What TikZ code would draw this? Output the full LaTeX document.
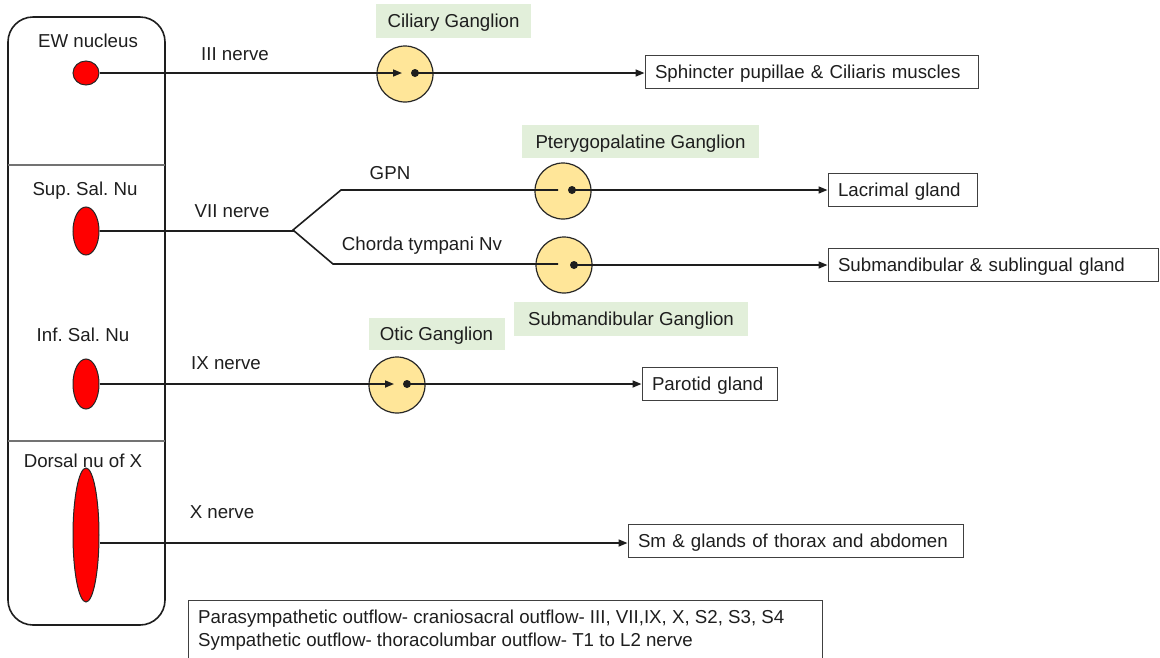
\documentclass[tikz,border=0pt]{standalone}
\usepackage{fontspec}
\setmainfont{Liberation Sans}
\frenchspacing
\usetikzlibrary{shapes.geometric,arrows.meta}
\definecolor{gangfill}{HTML}{FFE699}
\definecolor{lblgreen}{HTML}{E2EFDA}
\definecolor{ink}{HTML}{1E1E1E}
\begin{document}
\begin{tikzpicture}[x=1pt,y=-1pt,
  txt/.style={font=\fontsize{18.7}{22}\selectfont, text=ink, inner sep=0, text height=13.4pt, text depth=0pt},
  nuc/.style={ellipse, draw=black!85, fill=red, line width=1pt, inner sep=0, minimum width=26},
  gang/.style={circle, draw=black!85, fill=gangfill, line width=1.2pt, minimum size=56, inner sep=0},
  dotn/.style={circle, fill=ink, minimum size=8, inner sep=0},
  lbl/.style={txt, fill=lblgreen},
  target/.style={txt, draw=black!75, line width=1pt, minimum height=33, inner xsep=10, align=left},
  nerve/.style={line width=1.6pt, draw=ink},
  arr/.style={nerve, -{Triangle[length=9pt,width=7pt]}}
]
\useasboundingbox (0,0) rectangle (1160,657);

% container
\draw[line width=1.6pt, draw=ink, rounded corners=25] (8,17) rectangle (165,625);
\draw[line width=1.2pt, draw=black!55] (8,165) -- (165,165);
\draw[line width=1.2pt, draw=black!55] (8,441) -- (165,441);

% nuclei labels
\node[txt] (lew) at (88,41) {EW nucleus};
\node[txt] (lsup) at (85,189) {Sup. Sal. Nu};
\node[txt] (linf) at (83,335) {Inf. Sal. Nu};
\node[txt] (ldor) at (83,461) {Dorsal nu of X};

% nuclei
\node[nuc, minimum height=24] (ew) at (86,73) {};
\node[nuc, minimum height=48] (sup) at (86,231) {};
\node[nuc, minimum height=50] (inf) at (86,384) {};
\node[nuc, minimum height=134] (dor) at (86,535) {};

% ganglia
\node[gang] (cil) at (405,74) {};
\node[gang] (ptg) at (563,191) {};
\node[gang] (smg) at (564,265) {};
\node[gang] (oti) at (397,385) {};
\node[dotn] (cild) at (415,73) {};
\node[dotn] (ptgd) at (572,190) {};
\node[dotn] (smgd) at (574,265) {};
\node[dotn] (otid) at (407,384) {};

% ganglion labels
\node[lbl, minimum width=155, minimum height=34] (lcil) at (453.5,21) {Ciliary Ganglion};
\node[lbl, minimum width=237, minimum height=33] (lptg) at (640.5,141.5) {Pterygopalatine Ganglion};
\node[lbl, minimum width=234, minimum height=34] (lsmg) at (631,319) {Submandibular Ganglion};
\node[lbl, minimum width=136, minimum height=32] (loti) at (436.5,334) {Otic Ganglion};

% targets
\node[target, text width=313] (sph) at (811.5,71.5) {Sphincter pupillae \& Ciliaris muscles};
\node[target, text width=129] (lac) at (902.5,189.5) {Lacrimal gland};
\node[target, text width=310] (sub) at (993,264.5) {Submandibular \& sublingual gland};
\node[target, text width=115] (par) at (709.5,383.5) {Parotid gland};
\node[target, text width=315] (sm) at (795.5,540.5) {Sm \& glands of thorax and abdomen};

% nerve labels
\node[txt] (l3) at (235,54) {III nerve};
\node[txt] (l7) at (232,211) {VII nerve};
\node[txt] (l9) at (226,363) {IX nerve};
\node[txt] (l10) at (222,512) {X nerve};
\node[txt] (lgpn) at (390,173) {GPN};
\node[txt] (lct) at (422,244) {Chorda tympani Nv};

% coordinates
\coordinate (cilin) at (402,73);
\coordinate (otiin) at (394,384);
\coordinate (br) at (293,230);
\coordinate (gpn0) at (341,190);
\coordinate (gpn1) at (558,190);
\coordinate (ct0) at (333,264);
\coordinate (ct1) at (558,264);

% connectors
\draw[arr] (ew.east) -- (cilin);
\draw[arr] (cild.center) -- (cild.center -| sph.west);
\draw[nerve, line join=miter] (sup.east) -- (sup.east -| br) -- (br) -- (gpn0) -- (gpn1);
\draw[nerve] (br) -- (ct0) -- (ct1);
\draw[arr] (ptgd.center) -- (ptgd.center -| lac.west);
\draw[arr] (smgd.center) -- (smgd.center -| sub.west);
\draw[arr] (inf.east) -- (otiin);
\draw[arr] (otid.center) -- (otid.center -| par.west);
\draw[arr] (dor.east |- 0,543) -- (sm.west |- 0,543);

% note
\node[txt, anchor=north west, inner xsep=10, inner ysep=10, align=left, text height=, text depth=,
      font=\fontsize{18.7}{23}\selectfont] (note) at (188,600)
  {Parasympathetic outflow- craniosacral outflow- III, VII,IX, X, S2, S3, S4\\
   Sympathetic outflow- thoracolumbar outflow- T1 to L2 nerve};
\draw[line width=1pt, draw=black!75] (188,665) -- (188,600) -- (822,600) -- (822,665);
\end{tikzpicture}
\end{document}
